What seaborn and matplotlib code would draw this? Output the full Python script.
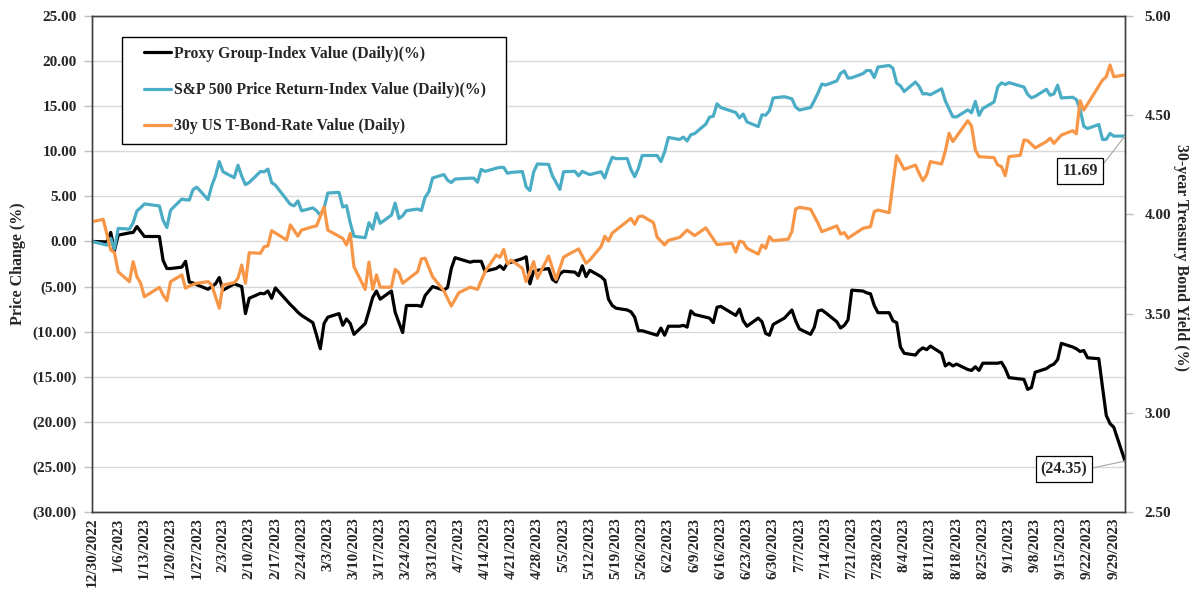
import pandas as pd
import matplotlib
matplotlib.use("Agg")
import matplotlib.pyplot as plt
import matplotlib.dates as mdates
from matplotlib.ticker import FuncFormatter, MultipleLocator
from matplotlib.legend_handler import HandlerLine2D
import seaborn as sns

# ---------------- data ----------------
market_holidays = ["2023-01-16", "2023-02-20", "2023-04-07", "2023-05-29",
                   "2023-06-19", "2023-07-04", "2023-09-04"]
trade_dates = [pd.Timestamp("2022-12-30")] + [
    d for d in pd.bdate_range("2023-01-03", "2023-10-02")
    if d.strftime("%Y-%m-%d") not in market_holidays]

proxy_values = [
    0.00,
    # Jan
    -0.05, 1.00, -1.00, 0.70, 0.95, 1.00, 1.65, 1.10, 0.55, 0.55, -2.10, -3.00, -3.00,
    -2.85, -2.20, -4.50, -4.60, -4.80, -5.30, -5.00,
    # Feb
    -4.70, -4.00, -5.40, -4.70, -4.85, -5.00, -8.00, -6.30, -5.75, -5.80, -5.50, -6.30,
    -5.15, -7.00, -7.40, -7.85, -8.20, -9.00, -10.40,
    # Mar
    -11.90, -9.10, -8.40, -8.00, -9.30, -8.60, -9.10, -10.30, -9.10, -7.70, -6.20, -5.50,
    -6.40, -5.50, -7.85, -9.00, -10.10, -7.10, -7.10, -7.20, -6.00, -5.50, -5.00,
    # Apr
    -5.40, -5.10, -3.00, -1.80, -2.30, -2.20, -2.20, -2.20, -3.30, -3.00, -2.70, -3.10,
    -2.40, -2.30, -1.90, -1.70, -4.70, -3.30, -3.20,
    # May
    -3.00, -4.20, -4.50, -3.60, -3.30, -3.40, -3.80, -2.70, -3.90, -3.20, -3.90, -4.30,
    -6.40, -7.10, -7.40, -7.60, -7.80, -8.40, -9.90, -9.90, -10.40, -9.60,
    # Jun
    -10.40, -9.40, -9.40, -9.30, -9.50, -7.70, -8.10, -8.40, -8.50, -9.00, -7.30, -7.20,
    -8.20, -7.50, -8.80, -9.40, -8.50, -8.90, -10.20, -10.40, -9.20,
    # Jul
    -8.50, -7.60, -8.80, -9.70, -10.30, -9.50, -7.70, -7.60, -7.90, -8.90, -9.60, -9.30,
    -8.70, -5.40, -5.50, -5.70, -5.80, -7.10, -7.90,
    # Aug
    -7.90, -8.80, -9.00, -11.70, -12.40, -12.60, -12.10, -11.80, -12.00, -11.60, -12.40,
    -13.80, -13.50, -13.80, -13.60, -14.20, -14.30, -13.90, -14.30, -13.50, -13.50,
    -13.50, -13.40,
    # Sep
    -14.10, -15.10, -15.30, -16.40, -16.20, -14.50, -14.10, -13.80, -13.60, -13.10,
    -11.30, -11.70, -11.90, -12.20, -12.10, -12.90, -13.00, -16.20, -19.30, -20.20,
    # Oct
    -20.60, -24.35,
]
sp500_values = [
    0.00,
    -0.40, 0.35, -0.82, 1.45, 1.37, 2.08, 3.39, 3.74, 4.16, 3.94, 2.33, 1.55, 3.47,
    4.70, 4.62, 4.60, 5.75, 6.02, 4.64, 6.18,
    7.28, 8.86, 7.73, 7.07, 8.45, 7.25, 6.30, 6.54, 7.75, 7.72, 8.02, 6.53, 6.24,
    4.11, 3.95, 4.50, 3.40, 3.72, 3.40,
    2.91, 3.69, 5.37, 5.44, 3.82, 3.97, 2.05, 0.57, 0.42, 2.08, 1.37, 3.15, 2.01,
    2.92, 4.25, 2.54, 2.84, 3.42, 3.59, 3.43, 4.90, 5.50, 7.03,
    7.42, 6.80, 6.53, 6.92, 7.02, 7.02, 6.57, 7.99, 7.77, 8.12, 8.22, 8.21, 7.56,
    7.66, 7.75, 6.05, 5.64, 7.70, 8.59,
    8.55, 7.29, 6.54, 5.77, 7.73, 7.78, 7.28, 7.77, 7.58, 7.41, 7.73, 7.04, 8.31,
    9.34, 9.18, 9.20, 7.97, 7.18, 8.12, 9.53, 9.53, 8.86,
    9.94, 11.53, 11.31, 11.57, 11.15, 11.84, 11.96, 13.01, 13.79, 13.88, 15.27, 14.85,
    14.30, 13.70, 14.13, 13.25, 12.74, 14.04, 14.00, 14.51, 15.91,
    16.05, 15.82, 14.90, 14.57, 14.85, 15.62, 16.48, 17.46, 17.34, 17.80, 18.63, 18.91,
    18.11, 18.15, 18.62, 18.96, 18.94, 18.18, 19.34, 19.52,
    19.20, 17.55, 17.25, 16.63, 17.68, 17.19, 16.36, 16.39, 16.27, 16.93, 15.58, 14.71,
    13.83, 13.81, 14.59, 14.27, 15.53, 13.98, 14.74, 15.46, 17.14, 17.59, 17.40,
    17.61, 17.12, 16.30, 15.93, 16.09, 16.87, 16.21, 16.36, 17.33, 15.91, 15.99, 15.74,
    14.65, 12.77, 12.52, 12.97, 11.30, 11.33, 11.98, 11.68,
    11.69,
]

bond_dates = [
    "2022-12-30", "2023-01-02", "2023-01-04", "2023-01-05", "2023-01-06", "2023-01-09",
    "2023-01-10", "2023-01-11", "2023-01-12", "2023-01-13", "2023-01-17", "2023-01-18",
    "2023-01-19", "2023-01-20", "2023-01-23", "2023-01-24", "2023-01-25", "2023-01-27",
    "2023-01-30", "2023-01-31", "2023-02-02", "2023-02-03", "2023-02-06", "2023-02-07",
    "2023-02-08", "2023-02-09", "2023-02-10", "2023-02-13", "2023-02-14", "2023-02-15",
    "2023-02-16", "2023-02-20", "2023-02-21", "2023-02-23", "2023-02-24", "2023-02-27",
    "2023-02-28", "2023-03-02", "2023-03-03", "2023-03-07", "2023-03-08", "2023-03-09",
    "2023-03-10", "2023-03-13", "2023-03-14", "2023-03-15", "2023-03-16", "2023-03-17",
    "2023-03-20", "2023-03-21", "2023-03-22", "2023-03-23", "2023-03-27", "2023-03-28",
    "2023-03-29", "2023-03-31", "2023-04-03", "2023-04-05", "2023-04-07", "2023-04-10",
    "2023-04-12", "2023-04-14", "2023-04-17", "2023-04-18", "2023-04-19", "2023-04-20",
    "2023-04-21", "2023-04-24", "2023-04-25", "2023-04-27", "2023-04-28", "2023-05-01",
    "2023-05-03", "2023-05-05", "2023-05-09", "2023-05-11", "2023-05-12", "2023-05-15",
    "2023-05-16", "2023-05-17", "2023-05-18", "2023-05-23", "2023-05-24", "2023-05-25",
    "2023-05-26", "2023-05-29", "2023-05-30", "2023-06-01", "2023-06-02", "2023-06-05",
    "2023-06-07", "2023-06-09", "2023-06-12", "2023-06-15", "2023-06-19", "2023-06-20",
    "2023-06-21", "2023-06-22", "2023-06-23", "2023-06-26", "2023-06-27", "2023-06-28",
    "2023-06-29", "2023-06-30", "2023-07-04", "2023-07-05", "2023-07-06", "2023-07-07",
    "2023-07-10", "2023-07-12", "2023-07-13", "2023-07-17", "2023-07-18", "2023-07-19",
    "2023-07-20", "2023-07-24", "2023-07-26", "2023-07-27", "2023-07-28", "2023-07-31",
    "2023-08-01", "2023-08-02", "2023-08-04", "2023-08-07", "2023-08-08", "2023-08-09",
    "2023-08-10", "2023-08-11", "2023-08-14", "2023-08-15", "2023-08-16", "2023-08-17",
    "2023-08-21", "2023-08-22", "2023-08-23", "2023-08-24", "2023-08-28", "2023-08-29",
    "2023-08-30", "2023-08-31", "2023-09-01", "2023-09-04", "2023-09-05", "2023-09-06",
    "2023-09-08", "2023-09-11", "2023-09-12", "2023-09-13", "2023-09-15", "2023-09-18",
    "2023-09-19", "2023-09-20", "2023-09-21", "2023-09-26", "2023-09-27", "2023-09-28",
    "2023-09-29", "2023-10-02",
]
bond_values = [
    3.963, 3.975, 3.821, 3.807, 3.711, 3.661,
    3.762, 3.686, 3.653, 3.585, 3.632, 3.594,
    3.565, 3.661, 3.695, 3.628, 3.639, 3.653,
    3.661, 3.644, 3.527, 3.644, 3.656, 3.678,
    3.745, 3.653, 3.807, 3.804, 3.837, 3.841,
    3.918, 3.871, 3.947, 3.891, 3.921, 3.938,
    3.942, 4.037, 3.921, 3.879, 3.846, 3.904,
    3.736, 3.622, 3.760, 3.622, 3.695, 3.633,
    3.633, 3.723, 3.706, 3.653, 3.711, 3.776,
    3.779, 3.686, 3.615, 3.538, 3.605, 3.633,
    3.622, 3.711, 3.795, 3.784, 3.824, 3.750,
    3.770, 3.728, 3.661, 3.762, 3.678, 3.790,
    3.672, 3.785, 3.826, 3.754, 3.770, 3.837,
    3.890, 3.866, 3.906, 3.980, 3.950, 3.988,
    3.992, 3.959, 3.885, 3.846, 3.869, 3.884,
    3.921, 3.893, 3.932, 3.848, 3.855, 3.810,
    3.865, 3.860, 3.829, 3.800, 3.846, 3.829,
    3.888, 3.867, 3.875, 3.913, 4.027, 4.036,
    4.026, 3.955, 3.913, 3.942, 3.901, 3.908,
    3.880, 3.930, 3.938, 4.014, 4.022, 4.009,
    4.157, 4.296, 4.227, 4.249, 4.207, 4.170,
    4.199, 4.266, 4.254, 4.320, 4.409, 4.367,
    4.472, 4.446, 4.325, 4.291, 4.286, 4.249,
    4.241, 4.195, 4.291, 4.298, 4.375, 4.372,
    4.335, 4.367, 4.384, 4.358, 4.400, 4.422,
    4.406, 4.573, 4.526, 4.677, 4.694, 4.753,
    4.694, 4.703,
]

series_labels = ["Proxy Group-Index Value (Daily)(%)",
                 "S&P 500 Price Return-Index Value (Daily)(%)",
                 "30y US T-Bond-Rate Value (Daily)"]
tick_dates = pd.date_range("2022-12-30", "2023-09-29", freq="7D")
tick_labels = [f"{d.month}/{d.day}/{d.year}" for d in tick_dates]

# ---------------- frames ----------------
df_idx = pd.DataFrame({"date": trade_dates, "proxy": proxy_values, "sp": sp500_values})
df_bond = pd.DataFrame({"date": pd.to_datetime(bond_dates), "rate": bond_values})

# ---------------- style ----------------
sns.set_theme(style="white")
plt.rcParams["font.family"] = ["Liberation Serif", "DejaVu Serif"]
plt.rcParams["font.weight"] = "bold"
plt.rcParams["axes.labelweight"] = "bold"

W, H = 1193, 592
L, R, T, B = 92, 1125, 16, 512
fig = plt.figure(figsize=(W / 100, H / 100), dpi=100)
ax = fig.add_axes([L / W, 1 - B / H, (R - L) / W, (B - T) / H])
ax2 = ax.twinx()

c_proxy, c_sp, c_bond = "#000000", "#4BACC6", "#F79646"
lw = 2.3
sns.lineplot(data=df_idx, x="date", y="proxy", ax=ax, color=c_proxy, lw=lw, legend=False)
sns.lineplot(data=df_idx, x="date", y="sp", ax=ax, color=c_sp, lw=lw, legend=False)
sns.lineplot(data=df_bond, x="date", y="rate", ax=ax2, color=c_bond, lw=lw, legend=False)

# axes ranges and ticks
ax.set_xlim(pd.Timestamp("2022-12-30"), pd.Timestamp("2023-10-02"))
ax.set_ylim(-30, 25)
ax.yaxis.set_major_locator(MultipleLocator(5))
ax.yaxis.set_major_formatter(FuncFormatter(
    lambda v, p: f"({abs(v):.2f})" if v < -1e-9 else f"{abs(v):.2f}"))
ax2.set_ylim(2.5, 5.0)
ax2.yaxis.set_major_locator(MultipleLocator(0.5))
ax2.yaxis.set_major_formatter(FuncFormatter(lambda v, p: f"{v:.2f}"))

ax.set_xticks(tick_dates)
ax.set_xticklabels(tick_labels, rotation=90)
ax.tick_params(axis="x", length=0, pad=4, labelsize=11)
ax.tick_params(axis="y", direction="out", length=6, width=1, color="#bfbfbf",
               pad=5, labelsize=11, left=True)
ax2.tick_params(axis="y", direction="out", length=6, width=1, color="#bfbfbf",
                pad=8, labelsize=11, right=True)
for lab in ax.get_xticklabels() + ax.get_yticklabels() + ax2.get_yticklabels():
    lab.set_fontweight("bold")

ax.set_xlabel("")
ax.set_ylabel("")
ax2.set_ylabel("")
ax.yaxis.grid(True, color="#d9d9d9", lw=1.0)
ax.xaxis.grid(False)
ax.set_axisbelow(True)
for a in (ax, ax2):
    for s in a.spines.values():
        s.set_color("#404040")
        s.set_linewidth(1.0)
        s.set_visible(True)

fig.text(18 / W, 1 - 264 / H, "Price Change (%)", rotation=90, ha="center",
         va="center", fontsize=11.5, fontweight="bold")
fig.text(1181 / W, 1 - 258 / H, "30-year Treasury Bond Yield (%)", rotation=270,
         ha="center", va="center", fontsize=11.5, fontweight="bold")


# legend: short line sample drawn on the right part of the handle area
class InsetLineHandler(HandlerLine2D):
    def get_xdata(self, legend, xdescent, ydescent, width, height, fontsize):
        x0 = -xdescent + 0.31 * width
        x1 = -xdescent + width
        return [x0, x1], [(x0 + x1) / 2]


handles = [ax.lines[0], ax.lines[1], ax2.lines[0]]
leg_left, leg_right, leg_top = 122, 506, 36.5
leg = ax2.legend(handles, series_labels, loc="upper left", mode="expand",
                 bbox_to_anchor=((leg_left - L) / (R - L), 0,
                                 (leg_right - leg_left) / (R - L),
                                 (B - leg_top) / (B - T)),
                 handler_map={h: InsetLineHandler() for h in handles},
                 frameon=True, fancybox=False, framealpha=1, edgecolor="black",
                 fontsize=11.3, handlelength=2.5, handletextpad=0.2,
                 labelspacing=1.28, borderpad=0.6, borderaxespad=0)
leg.get_frame().set_linewidth(1.0)
for t in leg.get_texts():
    t.set_fontweight("bold")

# end-value call-outs
last_date = mdates.date2num(trade_dates[-1])
box = dict(boxstyle="square,pad=0.3", fc="white", ec="black", lw=0.9)
arrow = dict(arrowstyle="-", color="#a6a6a6", lw=0.8, relpos=(1.0, 0.5),
             shrinkA=0, shrinkB=0)
ax2.annotate(f"{sp500_values[-1]:.2f}", xy=(last_date, sp500_values[-1]),
             xycoords=ax.transData, xytext=(-45, -35), textcoords="offset pixels",
             ha="center", va="center", fontsize=11.5, fontweight="bold",
             bbox=box, arrowprops=arrow)
ax2.annotate(f"({abs(proxy_values[-1]):.2f})", xy=(last_date, proxy_values[-1]),
             xycoords=ax.transData, xytext=(-61, -8), textcoords="offset pixels",
             ha="center", va="center", fontsize=11.5, fontweight="bold",
             bbox=box, arrowprops=arrow)

fig.savefig("out.png", dpi=100)
